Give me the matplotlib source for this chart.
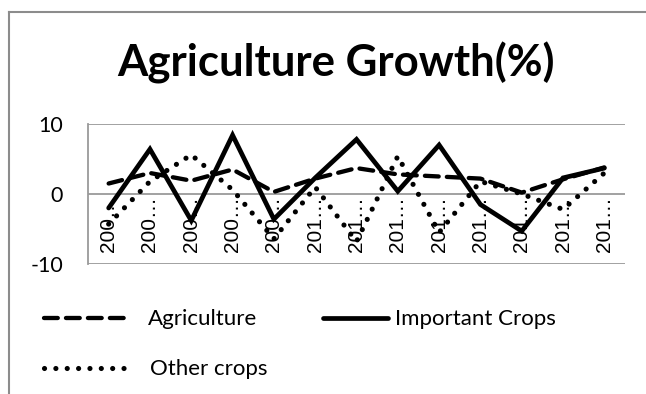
import numpy as np
import matplotlib.pyplot as plt
from matplotlib.lines import Line2D

plt.rcParams["axes.unicode_minus"] = False

# Growth rates (%) by year, 13 years
year_labels = ["200…"] * 5 + ["201…"] * 8
agriculture = [1.5, 3.0, 1.9, 3.5, 0.3, 2.2, 3.7, 2.8, 2.5, 2.2, 0.2, 2.1, 3.8]
important_crops = [-2.0, 6.4, -3.8, 8.4, -3.6, 2.3, 7.8, 0.4, 7.0, -1.5, -5.3, 2.3, 3.7]
other_crops = [-4.3, 1.8, 5.6, 0.6, -6.4, 1.0, -6.8, 5.4, -5.5, 1.8, 0.0, -2.2, 3.0]

W, H = 646, 394
fig = plt.figure(figsize=(W / 100, H / 100), dpi=100)
ax = fig.add_axes([88 / W, 1 - 264 / H, (625 - 88) / W, (264 - 124) / H])

grid_col = "#9a9a9a"
styles = {
    "Agriculture": dict(lw=3.1, dashes=(3.2, 1.9), dash_capstyle="round"),
    "Important Crops": dict(lw=3.4, solid_capstyle="round", solid_joinstyle="miter"),
    "Other crops": dict(lw=3.7, dashes=(0.01, 2.2), dash_capstyle="round"),
}
series = [("Agriculture", agriculture), ("Important Crops", important_crops),
          ("Other crops", other_crops)]

x = np.arange(len(year_labels))
for name, vals in series:
    ax.plot(x, vals, color="black", **styles[name], zorder=3)

ax.set_xlim(-0.5, len(year_labels) - 0.5)
ax.set_ylim(-10, 10)
ax.set_yticks([-10, 0, 10])
ax.set_xticks([])
for y in [-10, 0, 10]:
    ax.axhline(y, color=grid_col, lw=1.3, zorder=1)
for s in ["top", "right", "bottom"]:
    ax.spines[s].set_visible(False)
ax.spines["left"].set_color(grid_col)
ax.spines["left"].set_linewidth(1.3)
ax.tick_params(axis="y", length=0, pad=18)
for t in ax.get_yticklabels():
    t.set_fontfamily("Lato")
    t.set_fontsize(15.5)

# category labels hang just below the zero line
for i, lab in enumerate(year_labels):
    ax.annotate(lab, xy=(i, 0), xytext=(0, -1.5), textcoords="offset points",
                rotation=90, ha="center", va="top", fontsize=15,
                family="Liberation Sans", zorder=2)

fig.text(336 / W, 1 - 77 / H, "Agriculture Growth(%)", ha="center", va="baseline",
         fontsize=31.5, fontweight="bold", family="Lato")

# legend drawn below the plot area
legend_pos = {
    "Agriculture": ((44, 130), 318, 148, 325),
    "Important Crops": ((323, 388), 318, 395, 325),
    "Other crops": ((44, 132), 368, 150, 375),
}
for name, _ in series:
    (x0, x1), ly, tx, ty = legend_pos[name]
    fig.add_artist(Line2D([x0 / W, x1 / W], [1 - ly / H, 1 - ly / H],
                          color="black", **styles[name]))
    fig.text(tx / W, 1 - ty / H, name, ha="left", va="baseline",
             fontsize=16, family="Lato")

# chart border
border = "#8c8c8c"
fig.add_artist(Line2D([9 / W, 9 / W], [0, 1 - 12 / H], color=border, lw=1.5))
fig.add_artist(Line2D([9 / W, 1], [1 - 12 / H, 1 - 12 / H], color=border, lw=1.5))

fig.savefig("out.png", dpi=100)
